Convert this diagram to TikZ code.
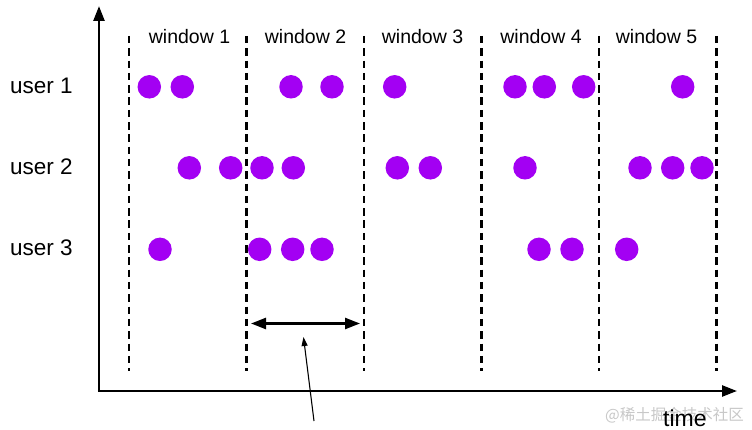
\documentclass[tikz,border=0pt]{standalone}
\usepackage{fontspec}
\setmainfont{Liberation Sans}
\newfontfamily\cjkfont{Noto Sans CJK SC}
\usetikzlibrary{arrows.meta}
\definecolor{dotpurple}{RGB}{163,0,243}
\definecolor{wmgray}{RGB}{200,200,200}
\tikzset{
  dotnode/.style={circle, fill=dotpurple, draw=none, inner sep=0pt, minimum size=23.5pt},
  axisline/.style={line width=2.5pt, -{Triangle[length=15pt,width=11pt]}},
  windowsep/.style={line width=2.4pt, dash pattern=on 7.5pt off 4.8pt},
  winlabel/.style={anchor=base, inner sep=0pt, font=\fontsize{19.5pt}{22pt}\selectfont},
  userlabel/.style={anchor=base west, inner sep=0pt, font=\fontsize{22.5pt}{26pt}\selectfont},
  spanarrow/.style={line width=2.4pt, {Triangle[length=15pt,width=11pt]}-{Triangle[length=15pt,width=11pt]}},
  pointer/.style={line width=1.1pt, -{Triangle[length=9pt,width=6pt]}},
}
\begin{document}
\begin{tikzpicture}[x=1pt,y=-1pt]
\useasboundingbox (0,0) rectangle (752,430);
\fill[white] (0,0) rectangle (752,430);
% watermark
\node[anchor=west, inner sep=0pt, text=wmgray, font=\cjkfont\fontsize{15.5pt}{18pt}\selectfont] (wm) at (605,415) {@稀土掘金技术社区};
% axes
\coordinate (origin) at (99,391);
\coordinate (ytop) at (99,6);
\coordinate (xend) at (737,391);
\draw[axisline] (origin) -- (ytop);
\draw[axisline] ([xshift=-1.25pt]origin) -- (xend);
% window separators
\foreach \i/\x in {1/129,2/246.5,3/364,4/481.5,5/599,6/716.5}{
  \coordinate (st\i) at (\x,36);
  \coordinate (sb\i) at (\x,371);
  \draw[windowsep] (st\i) -- (sb\i);
}
% window labels
\foreach \i/\x in {1/189.5,2/305.5,3/422.5,4/541,5/656.5}{
  \node[winlabel] (w\i) at (\x,43.5) {window \i};
}
% user labels
\node[userlabel] (u1) at (10,94) {user 1};
\node[userlabel] (u2) at (10,175) {user 2};
\node[userlabel] (u3) at (10,256) {user 3};
% dots
\foreach \x [count=\k] in {149.3,182.3,291,332,394.7,515,544.3,583.7,682.7}{
  \node[dotnode] (a\k) at (\x,86.8) {};
}
\foreach \x [count=\k] in {189.3,230.7,262,293.3,397.3,430.3,525,640,672.7,702}{
  \node[dotnode] (b\k) at (\x,167.8) {};
}
\foreach \x [count=\k] in {160,259.7,292.7,322,539,572,626.7}{
  \node[dotnode] (c\k) at (\x,249.3) {};
}
% window span arrow
\coordinate (spanL) at (251,323.5);
\coordinate (spanR) at (360,323.5);
\draw[spanarrow] (spanL) -- (spanR);
% pointer
\coordinate (ptail) at (314,421);
\coordinate (phead) at (303.5,337);
\draw[pointer] (ptail) -- (phead);
% time label
\node[anchor=base west, inner sep=0pt, font=\fontsize{23pt}{26pt}\selectfont] (time) at (663,426) {time};
\end{tikzpicture}
\end{document}
